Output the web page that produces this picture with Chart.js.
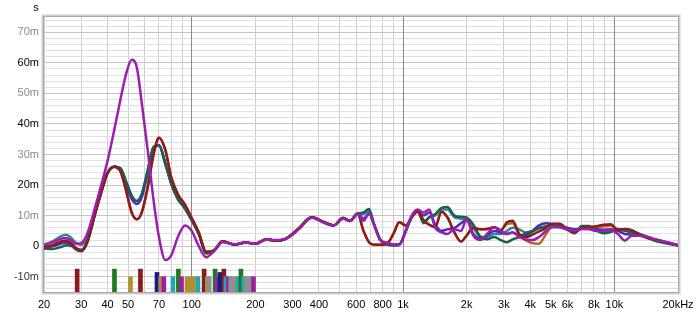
<!DOCTYPE html>
<html><head><meta charset="utf-8">
<script src="https://cdn.jsdelivr.net/npm/chart.js@4.4.1/dist/chart.umd.min.js"></script>
<style>html,body{margin:0;padding:0;background:#fff;}canvas{display:block;}</style>
</head><body>
<canvas id="c" width="700" height="316"></canvas>
<script>
// Frequencies (Hz) shared by all curves
const freqs = [20,22,24,25.5,27,28.5,30,32,35,38,40,43,46,49,52,55,58,62,66,70,75,80,86,93,100,108,117,127,140,160,180,200,225,250,280,320,370,420,470,520,560,610,650,690,730,780,840,900,960,1030,1100,1170,1250,1330,1420,1520,1620,1750,1880,2000,2150,2330,2500,2700,2900,3100,3300,3550,3800,4100,4400,4750,5100,5500,6000,6500,7000,7600,8200,8900,9600,10400,11200,12100,13200,14500,16000,18000,20000];

// Group delay values (ms)
const purpleMs = [0.5,1.3,2.4,2.7,1.8,0.7,1.0,4,13,22,28,38,48,56.5,61,58.5,47,31,15,3,-4.5,-3,3,6.8,5,0,-3.6,-1.8,1.3,0.6,1.2,0.8,2.2,2.0,2.5,5.5,9.3,7.8,6.8,9,8.2,10.5,8.3,10.8,7,2,1.2,0.5,0.6,5,10,12,11,12,6,4.5,4,5.5,5,8.8,3.5,2,4,6.2,5,4,4.5,3,2.2,2,3,5,6.2,6.2,5.5,5.1,5.6,5.5,5,5.1,5.2,4,1.8,3.4,3.4,2.9,2,1.2,0.3];
const redMs = [-0.3,0.3,1.5,1.8,0.8,-0.8,-1.5,1.5,11,19.5,24,26,24.5,18,11,8.8,11,19.5,30,35.5,31.5,22.5,17,13.5,9.2,4.5,-1.8,-1.5,1.6,0.5,1.2,0.8,2.2,1.8,2.5,5.8,9.5,8,6.8,9.2,8.3,10.5,5,1.3,0.5,0.5,0.8,4,7.8,6.8,9.5,11.3,8.5,7,6.3,11.3,9.5,4.5,1.5,3.5,6,5.5,5.6,6.2,5.2,7.8,8.3,4,2.9,3.8,4.8,6,7.3,7.3,5.5,4.6,6,6.2,6.5,7,7.2,5.3,5.6,5.2,3.8,2.6,2,1.1,0.3];
const greenMs = [-0.8,-0.9,-0.3,0.3,0,-1.2,-1.7,1,11,19.5,24,26,25.5,21,16.5,14.8,17,25,32.5,33,27,20.5,15.5,12.3,8.5,4,-2.3,-1.5,1.5,0.5,1.2,0.8,2.2,1.8,2.5,5.5,9.5,7.8,6.8,9.2,8.2,10.7,11,12.2,7,2.2,0.6,0.2,0.4,5,9.5,11.8,7.5,9.4,10.5,12.5,12.8,10,9.6,9.4,7,3,2.3,3,2,1.3,2.2,3,4.2,4.8,5.8,6.4,7.1,6.5,5.3,4.2,6.6,6.6,5.2,4.2,4.6,5.6,5,4.5,3.6,2.6,1.5,0.8,0.3];
const blueMs = [-0.3,0,0.8,1.2,0.5,-0.8,-1.2,1.2,11,19.5,24,26,25,20,15.5,13.8,16,24,32,33,27,20.5,15.5,12.3,8.5,4,-2.3,-1.5,1.5,0.5,1.2,0.8,2.2,1.8,2.5,5.5,9.5,7.8,6.8,9.2,8.2,10.7,9,10.5,7,2,0.8,0.5,0.6,5,9.8,11.8,10,11,7,5,5.5,6,7.5,8.6,4,2.5,3.5,5,4.5,4,4.5,3.5,3.5,5,6.8,7.5,7.3,6.8,6,5.5,5.8,5.8,5.5,5.4,5.5,5,4,3.8,3.5,2.8,1.8,1,0.3];
const tealMs = [0.4,1.6,3.2,3.7,2.6,1.0,0.5,2.5,11.5,19.5,24,26,25.5,21,16.5,14.8,17,25,32.5,33,27,20.5,15.5,12.3,8.5,4,-2.3,-1.5,1.5,0.5,1.2,0.8,2.2,1.8,2.5,5.5,9.5,7.8,6.8,9.2,8.2,10.7,10.5,11.5,7,2,0.8,0.4,0.5,5,9.5,11.5,8,9.5,10,12,12,9.5,9,8.5,6,3,3,4,4,5,6,5.5,4.5,5,6,6.5,6.8,6.2,5.5,5,6.2,6.4,5.6,4.8,5,5.4,5.2,4.8,4,3,1.8,1,0.3];
const orangeMs = [-0.3,0.3,1.5,1.8,0.8,-0.8,-1.5,1.5,11,19.5,24,26,24.5,18,11,8.8,11,19.5,30,35.5,31.5,22.5,17,13.5,9.2,4.5,-1.8,-1.5,1.6,0.5,1.2,0.8,2.2,1.8,2.5,5.8,9.5,8,6.8,9.2,8.3,10.5,5,1.3,0.5,0.5,0.8,4,7.8,6.8,9.5,11.3,8.5,7,6.3,11.3,9.5,4.5,1.5,3.5,6,5.5,5.6,6.2,5.2,7.2,7.5,3.5,2,1,0.8,4,6.8,7,5.5,4.6,5.8,6,6.2,6.5,6.8,5.3,5.4,5,3.8,2.6,2,1.1,0.3];

// Marker bars along the bottom (frequency Hz, top value ms, colour)
const barFreqs = [28.7,43.1,51.3,57.2,68.5,71.3,73.8,81.5,86.5,89.5,95,98,102,107,114.5,118.5,121,129,132,136,142,145,149,153,157,162,166,171,176,181,186,191,196];
const barTops  = [-7.5,-7.5,-10,-7.5,-8.6,-10,-10,-10,-7.5,-10,-10,-10,-10,-10,-7.5,-10,-10,-7.5,-10,-8.6,-7.5,-10,-10,-10,-10,-10,-10,-7.5,-10,-10,-10,-10,-10];
const barColors = ['#8b1a1a','#1f7a1f','#b09030','#8b1a1a','#1a1a8b','#b88a40','#a020a0','#20a8b0','#1f7a1f','#a020a0','#b09030','#b09030','#b09030','#20a8b0','#8b1a1a','#a09050','#909090','#1f7a1f','#a020a0','#1a1a8b','#8b1a1a','#20a8b0','#a020a0','#909090','#909090','#909090','#20a8b0','#1f7a1f','#20a8b0','#909090','#909090','#909090','#a020a0'];
const barBase = -15;

// Axis ticks
const xGridValues = [20,30,40,50,60,70,80,90,100,200,300,400,500,600,700,800,900,1000,2000,3000,4000,5000,6000,7000,8000,9000,10000,20000];
const xDecades = [100,1000,10000];
const xTickLabels = {20:'20',30:'30',40:'40',50:'50',70:'70',100:'100',200:'200',300:'300',400:'400',600:'600',800:'800',1000:'1k',2000:'2k',3000:'3k',4000:'4k',5000:'5k',6000:'6k',8000:'8k',10000:'10k',20000:'20kHz'};
const yGridValues = [];
for (let v = -14; v <= 74; v += 2) yGridValues.push(v);
const yTickLabels = {70:'70m',60:'60m',50:'50m',40:'40m',30:'30m',20:'20m',10:'10m',0:'0','-10':'-10m'};

const FONT = {family: '"Liberation Sans", Arial, sans-serif', size: 11};

function series(vals, color) {
  return {
    type: 'line',
    data: freqs.map((f, i) => ({x: f, y: vals[i]})),
    borderColor: color,
    borderWidth: 2.5,
    pointRadius: 0,
    fill: false,
    cubicInterpolationMode: 'monotone',
    borderJoinStyle: 'round',
    borderCapStyle: 'round'
  };
}

const framePlugin = {
  id: 'frame',
  beforeDatasetsDraw(chart) {
    const {ctx, chartArea: a, scales} = chart;
    ctx.save();
    ctx.strokeStyle = '#8a8a8a';
    ctx.lineWidth = 1;
    xDecades.forEach(v => {
      const px = Math.round(scales.x.getPixelForValue(v) + 0.5) - 0.5;
      ctx.beginPath();
      ctx.moveTo(px, a.top);
      ctx.lineTo(px, a.bottom);
      ctx.stroke();
    });
    ctx.restore();
  },
  afterDraw(chart) {
    const {ctx, chartArea: a} = chart;
    ctx.save();
    ctx.lineWidth = 1;
    ctx.strokeStyle = '#e6e6e6';
    ctx.strokeRect(a.left - 2.5, a.top - 2.5, a.right - a.left + 5, a.bottom - a.top + 5);
    ctx.strokeStyle = '#cfcfcf';
    ctx.strokeRect(a.left - 1.5, a.top - 1.5, a.right - a.left + 3, a.bottom - a.top + 3);
    ctx.strokeStyle = '#a8a8a8';
    ctx.strokeRect(a.left - 0.5, a.top - 0.5, a.right - a.left + 1, a.bottom - a.top + 1);
    ctx.fillStyle = '#000';
    ctx.font = '11px "Liberation Sans", Arial, sans-serif';
    ctx.textAlign = 'center';
    ctx.textBaseline = 'middle';
    ctx.fillText('s', 36, 8);
    ctx.restore();
  }
};

new Chart(document.getElementById('c'), {
  type: 'line',
  data: {
    datasets: [
      series(purpleMs, '#9b1fae'),
      series(redMs, '#8e1b1b'),
      series(greenMs, '#1f5e4e'),
      series(blueMs, '#4a2bc0'),
      series(tealMs, '#2f8c8c'),
      series(orangeMs, '#b5651d'),
      {
        type: 'bar',
        data: barFreqs.map((f, i) => ({x: f, y: [barBase, barTops[i]]})),
        backgroundColor: barColors,
        borderWidth: 0,
        barThickness: 4,
        order: 100
      }
    ]
  },
  options: {
    responsive: false,
    animation: false,
    devicePixelRatio: 1,
    layout: {padding: {left: 0, right: 22, top: 17, bottom: 0}},
    plugins: {legend: {display: false}, tooltip: {enabled: false}},
    scales: {
      x: {
        type: 'logarithmic',
        min: 20, max: 20000,
        offset: false,
        afterBuildTicks(s) { s.ticks = xGridValues.map(v => ({value: v})); },
        afterFit(s) { s.height = 24; },
        grid: {
          offset: false,
          drawTicks: false,
          color: c => { const v = c.tick && c.tick.value; return xDecades.includes(v) ? '#8a8a8a' : '#cdcdcd'; },
          lineWidth: 1
        },
        border: {display: false},
        ticks: {
          autoSkip: false, maxRotation: 0, minRotation: 0, padding: 6,
          color: '#000', font: FONT,
          callback: v => xTickLabels[v] || ''
        }
      },
      y: {
        type: 'linear',
        min: -15, max: 75,
        afterBuildTicks(s) { s.ticks = yGridValues.map(v => ({value: v})); },
        afterFit(s) { s.width = 44; },
        grid: {
          offset: false,
          drawTicks: false,
          color: c => { const v = c.tick && c.tick.value; return (v % 10 === 0) ? '#c6c6c6' : '#e0e0e0'; },
          lineWidth: 1
        },
        border: {display: false},
        ticks: {
          autoSkip: false, padding: 5, font: FONT,
          color: c => { const v = c.tick && c.tick.value; return (v === 60 || v === 40 || v === 20 || v === 0) ? '#000' : (v === -10 ? '#333' : '#8a8a8a'); },
          callback: v => (yTickLabels[v] !== undefined ? yTickLabels[v] : '')
        }
      }
    }
  },
  plugins: [framePlugin]
});
</script>
</body></html>
